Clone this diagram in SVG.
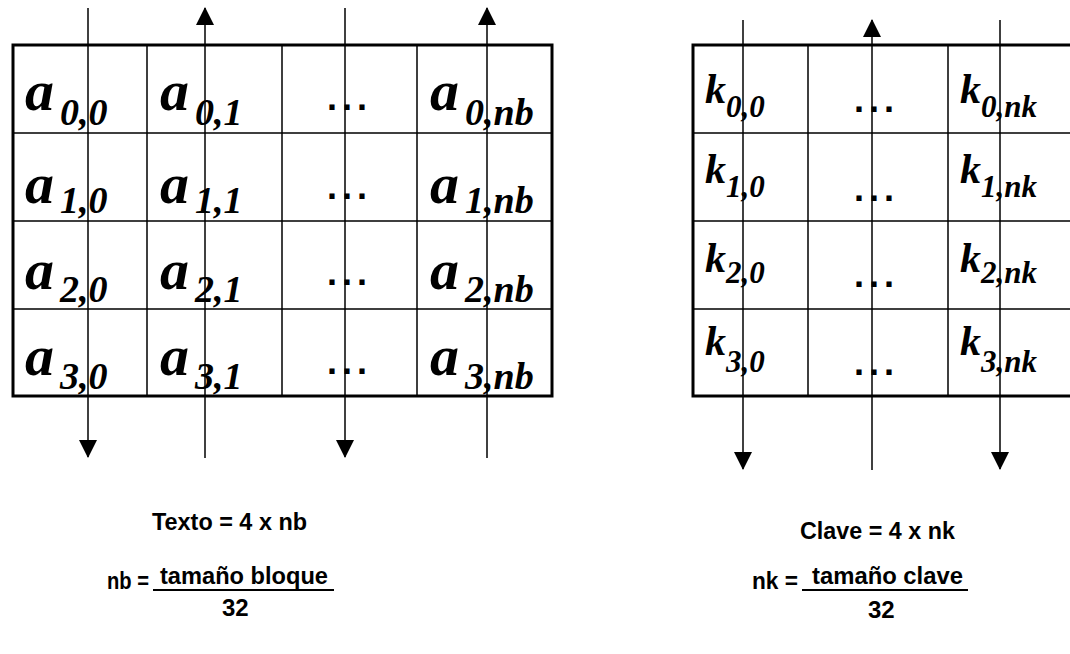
<svg xmlns="http://www.w3.org/2000/svg" width="1070" height="654" viewBox="0 0 1070 654">
  <style>
    .frame { fill: none; stroke: #000; stroke-width: 3; }
    .grid { stroke: #000; stroke-width: 1.5; fill: none; }
    .flow { stroke: #000; stroke-width: 1.5; fill: none; }
    .big { font-family: "Liberation Serif", "Times New Roman", serif; font-style: italic; font-weight: bold; fill: #000; }
    .a { font-size: 58px; }
    .k { font-size: 42px; }
    .suba { font-size: 38px; }
    .subk { font-size: 31px; }
    .dots { font-family: "Liberation Sans", Arial, sans-serif; font-weight: bold; font-size: 36px; letter-spacing: 5px; fill: #000; }
    .eq { font-family: "Liberation Sans", Arial, sans-serif; font-weight: bold; font-size: 24px; fill: #000; }
  </style>
  <defs>
    <marker id="head" markerUnits="userSpaceOnUse" markerWidth="18" markerHeight="18" refX="17" refY="9" orient="auto">
      <path d="M0,0 L18,9 L0,18 z" fill="#000"/>
    </marker>
  </defs>
  <rect width="1070" height="654" fill="#fff"/>

  <!-- text block matrix -->
  <g id="state-matrix">
    <rect class="frame" x="13" y="45" width="539" height="351"/>
    <path class="grid" d="M147,45 V396 M282,45 V396 M417,45 V396 M13,133 H552 M13,221 H552 M13,309 H552"/>
    <g id="a00"><text class="big a" x="25" y="110">a</text><text class="big suba" x="60" y="125">0,0</text></g>
    <g id="a01"><text class="big a" x="160" y="110">a</text><text class="big suba" x="195" y="125">0,1</text></g>
    <g id="a0x"><text class="dots" x="327" y="110">...</text></g>
    <g id="a0nb"><text class="big a" x="430" y="110">a</text><text class="big suba" x="465" y="125">0,nb</text></g>

    <g id="a10"><text class="big a" x="25" y="203">a</text><text class="big suba" x="60" y="213">1,0</text></g>
    <g id="a11"><text class="big a" x="160" y="203">a</text><text class="big suba" x="195" y="213">1,1</text></g>
    <g id="a1x"><text class="dots" x="327" y="199">...</text></g>
    <g id="a1nb"><text class="big a" x="430" y="203">a</text><text class="big suba" x="465" y="213">1,nb</text></g>

    <g id="a20"><text class="big a" x="25" y="289">a</text><text class="big suba" x="60" y="302">2,0</text></g>
    <g id="a21"><text class="big a" x="160" y="289">a</text><text class="big suba" x="195" y="302">2,1</text></g>
    <g id="a2x"><text class="dots" x="327" y="285">...</text></g>
    <g id="a2nb"><text class="big a" x="430" y="289">a</text><text class="big suba" x="465" y="302">2,nb</text></g>

    <g id="a30"><text class="big a" x="25" y="375">a</text><text class="big suba" x="60" y="389">3,0</text></g>
    <g id="a31"><text class="big a" x="160" y="375">a</text><text class="big suba" x="195" y="389">3,1</text></g>
    <g id="a3x"><text class="dots" x="327" y="374">...</text></g>
    <g id="a3nb"><text class="big a" x="430" y="375">a</text><text class="big suba" x="465" y="389">3,nb</text></g>
  </g>

  <!-- key matrix (right edge runs past the canvas) -->
  <g id="key-matrix">
    <rect class="frame" x="693" y="45" width="400" height="351"/>
    <path class="grid" d="M808,45 V396 M948,45 V396 M693,133 H1070 M693,221 H1070 M693,309 H1070"/>
    <g id="k00"><text class="big k" x="705" y="103">k</text><text class="big subk" x="726" y="117">0,0</text></g>
    <g id="k0x"><text class="dots" x="854" y="112">...</text></g>
    <g id="k0nk"><text class="big k" x="960" y="103">k</text><text class="big subk" x="981" y="117">0,nk</text></g>

    <g id="k10"><text class="big k" x="705" y="183">k</text><text class="big subk" x="726" y="197">1,0</text></g>
    <g id="k1x"><text class="dots" x="854" y="201">...</text></g>
    <g id="k1nk"><text class="big k" x="960" y="183">k</text><text class="big subk" x="981" y="197">1,nk</text></g>

    <g id="k20"><text class="big k" x="705" y="272">k</text><text class="big subk" x="726" y="283">2,0</text></g>
    <g id="k2x"><text class="dots" x="854" y="287">...</text></g>
    <g id="k2nk"><text class="big k" x="960" y="272">k</text><text class="big subk" x="981" y="283">2,nk</text></g>

    <g id="k30"><text class="big k" x="705" y="355">k</text><text class="big subk" x="726" y="372">3,0</text></g>
    <g id="k3x"><text class="dots" x="854" y="375">...</text></g>
    <g id="k3nk"><text class="big k" x="960" y="355">k</text><text class="big subk" x="981" y="372">3,nk</text></g>
  </g>

  <!-- column traversal arrows -->
  <g id="connectors">
    <line class="flow" x1="88" y1="8" x2="88" y2="457" marker-end="url(#head)"/>
    <line class="flow" x1="205" y1="458" x2="205" y2="8" marker-end="url(#head)"/>
    <line class="flow" x1="345" y1="8" x2="345" y2="457" marker-end="url(#head)"/>
    <line class="flow" x1="487" y1="458" x2="487" y2="8" marker-end="url(#head)"/>
    <line class="flow" x1="743" y1="20" x2="743" y2="469" marker-end="url(#head)"/>
    <line class="flow" x1="872" y1="470" x2="872" y2="20" marker-end="url(#head)"/>
    <line class="flow" x1="1000" y1="20" x2="1000" y2="469" marker-end="url(#head)"/>
  </g>

  <!-- size formulas -->
  <g id="text-formula">
    <text class="eq" x="152" y="530" textLength="155" lengthAdjust="spacingAndGlyphs">Texto = 4 x nb</text>
    <text class="eq" x="107" y="589" textLength="42" lengthAdjust="spacingAndGlyphs">nb =</text>
    <text class="eq" x="160" y="584" textLength="168" lengthAdjust="spacingAndGlyphs">tamaño bloque</text>
    <line x1="153" y1="590" x2="334" y2="590" stroke="#000" stroke-width="2"/>
    <text class="eq" x="222" y="616">32</text>
  </g>
  <g id="key-formula">
    <text class="eq" x="800" y="539" textLength="155" lengthAdjust="spacingAndGlyphs">Clave = 4 x nk</text>
    <text class="eq" x="752" y="589" textLength="46" lengthAdjust="spacingAndGlyphs">nk =</text>
    <text class="eq" x="812" y="584" textLength="151" lengthAdjust="spacingAndGlyphs">tamaño clave</text>
    <line x1="802" y1="590" x2="968" y2="590" stroke="#000" stroke-width="2"/>
    <text class="eq" x="868" y="618">32</text>
  </g>
</svg>
